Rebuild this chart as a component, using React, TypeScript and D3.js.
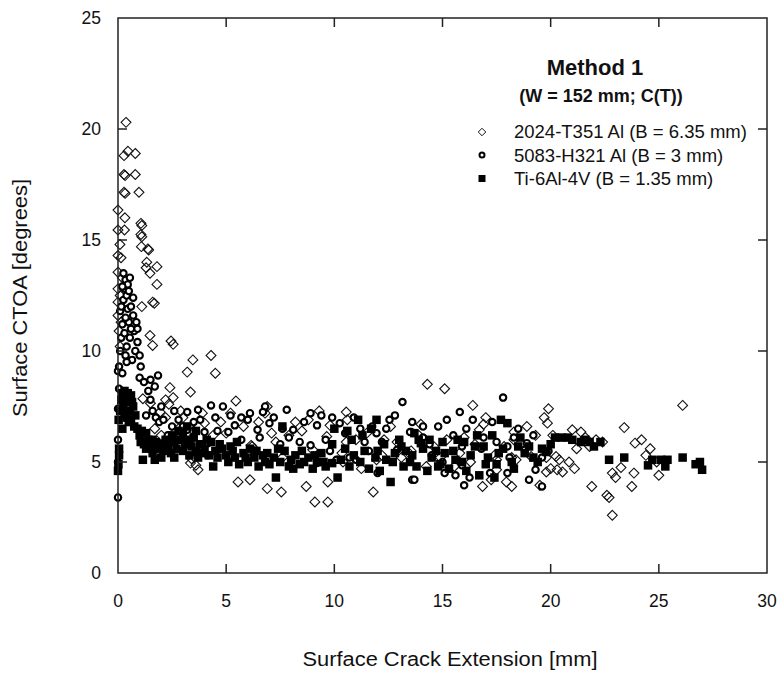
import React from "react";
import * as d3 from "d3";

const xTicks = [0, 5, 10, 15, 20, 25, 30];
const yTicks = [0, 5, 10, 15, 20, 25];

const legendLabels = [
  "2024-T351 Al (B = 6.35 mm)",
  "5083-H321 Al (B = 3 mm)",
  "Ti-6Al-4V (B = 1.35 mm)",
];

// 2024-T351 Al (open diamonds)
const al2024: [number, number][] = [
  [0.37, 20.3], [0.28, 18.8], [0.46, 19.0], [0.8, 18.9],
  [0.28, 17.95], [0.33, 17.9], [0.8, 17.95],
  [0.28, 17.15], [0.33, 17.1], [0.97, 17.15],
  [0.0, 16.35], [0.32, 16.0], [0.0, 15.45], [0.3, 15.45],
  [1.06, 15.75], [1.1, 15.65], [1.06, 15.25], [1.1, 15.15],
  [0.09, 14.8], [1.08, 14.7], [1.38, 14.6], [1.42, 14.55],
  [0.0, 14.3], [0.14, 14.2], [1.33, 14.0], [1.8, 13.8], [1.3, 13.75], [1.48, 13.5], [0.0, 13.55], [0.2, 13.3],
  [1.8, 13.0], [0.0, 12.8], [0.1, 12.5], [0.0, 12.2], [1.6, 12.2], [1.68, 12.15], [1.1, 12.0], [0.0, 11.6], [0.14, 11.3],
  [1.48, 10.7], [1.6, 10.25], [2.45, 10.45], [2.55, 10.3], [0.05, 10.9], [0.1, 10.2],
  [3.46, 9.6], [4.3, 9.8], [3.2, 9.05], [4.5, 9.0],
  [2.4, 8.35], [3.35, 8.15], [1.15, 7.85], [1.5, 7.65], [1.95, 7.25], [2.2, 7.0], [2.55, 7.9], [2.2, 7.8], [2.35, 7.6], [2.9, 7.3], [3.0, 7.0], [5.45, 7.75],
  [4.0, 6.75], [4.75, 6.8], [3.5, 6.4], [3.3, 5.95], [2.8, 6.5], [2.0, 6.2], [1.7, 6.5],
  [3.35, 4.95], [3.4, 5.15], [3.7, 4.65], [3.6, 4.85], [5.55, 4.1], [6.1, 4.2], [6.15, 5.75], [6.2, 5.7],
  [6.9, 7.5], [6.8, 7.2], [7.3, 5.9], [7.6, 5.2], [6.9, 3.8], [7.55, 3.65], [8.5, 6.4], [8.7, 3.9], [9.1, 3.2], [9.7, 3.2], [9.7, 4.1], [9.65, 6.15], [9.0, 5.55], [9.8, 6.65], [8.2, 6.8], [7.9, 6.2], [5.0, 6.3], [5.8, 6.6],
  [10.55, 7.25], [10.6, 6.9], [10.55, 5.9], [10.35, 5.4], [10.4, 5.0], [11.25, 4.7], [11.95, 5.1], [12.2, 5.3], [13.1, 5.2], [13.55, 5.5], [11.8, 3.65], [11.5, 6.3], [12.6, 6.6], [12.9, 5.9],
  [14.3, 8.5], [15.1, 8.3], [16.4, 7.55], [17.0, 7.0], [16.9, 6.7], [16.7, 6.45], [16.0, 6.1], [15.2, 6.0], [14.25, 4.8], [15.55, 4.8], [13.45, 5.4], [14.6, 5.7], [15.8, 5.4], [16.3, 5.0], [14.0, 6.7],
  [17.4, 5.3], [17.5, 4.65], [17.5, 5.1], [17.85, 5.7], [18.2, 5.2], [18.3, 6.0], [18.3, 6.35], [18.4, 5.1], [16.85, 3.9], [17.25, 4.2], [17.95, 4.1], [18.2, 3.9], [19.5, 3.95], [19.1, 5.25], [19.8, 5.2], [19.8, 4.55], [20.0, 4.7], [20.3, 4.65],
  [19.9, 7.4], [19.7, 7.0], [19.85, 6.75], [21.0, 6.45], [21.4, 6.35], [21.2, 5.6], [20.25, 5.25], [20.4, 5.1], [20.85, 5.0], [21.1, 4.7], [20.55, 4.55], [22.1, 6.0], [21.9, 3.9],
  [23.4, 6.55], [24.2, 6.0], [23.9, 5.85], [24.6, 5.6], [24.4, 5.3], [23.25, 4.75], [22.85, 4.5], [23.0, 4.3], [23.85, 4.5], [25.0, 4.4], [23.75, 3.9], [22.6, 3.5], [22.7, 3.4], [22.85, 2.6], [26.1, 7.55], [21.8, 5.7],
  [2.6, 6.3], [3.9, 7.2], [4.4, 6.2], [5.2, 7.2], [6.5, 6.8], [7.1, 6.3], [8.8, 6.9], [9.3, 7.3], [11.0, 6.0], [12.3, 6.0],
  [13.9, 6.2], [14.9, 5.2], [16.5, 5.8], [18.9, 6.6], [19.3, 6.2], [21.6, 6.1], [22.4, 5.9], [24.9, 5.0], [20.1, 6.2],
];

// 5083-H321 Al (open circles)
const al5083: [number, number][] = [
  [0.0, 3.4], [0.0, 5.0], [0.0, 6.0], [0.0, 7.4], [0.05, 8.3], [0.0, 9.1],
  [0.05, 9.3], [0.1, 10.0], [0.15, 10.6], [0.2, 11.2], [0.1, 11.8], [0.25, 12.3], [0.3, 12.8], [0.35, 13.2], [0.4, 12.5], [0.45, 11.9],
  [0.5, 11.3], [0.3, 10.8], [0.4, 10.2], [0.55, 10.6], [0.6, 12.0], [0.5, 12.7], [0.45, 13.0], [0.7, 11.6], [0.75, 10.9], [0.8, 10.0],
  [0.65, 9.6], [0.9, 10.4], [1.0, 9.8], [1.05, 9.3], [0.35, 9.8], [0.2, 9.0], [0.15, 12.0], [0.25, 13.5], [0.6, 11.0], [0.85, 11.3],
  [0.4, 9.5], [0.9, 11.0], [0.2, 12.9], [0.55, 13.3], [0.35, 11.5], [0.7, 12.4],
  [1.0, 8.8], [1.2, 8.6], [1.5, 8.7], [1.7, 8.4], [1.85, 8.9], [1.4, 8.2], [1.5, 7.8], [1.6, 7.3], [1.75, 7.0], [1.9, 6.8], [2.0, 7.5], [1.3, 7.1],
  [2.5, 6.6], [2.8, 6.9], [3.2, 7.25], [3.7, 7.35], [4.3, 7.55], [4.85, 7.5], [4.5, 7.0], [3.2, 6.45], [3.1, 5.9], [4.0, 6.35], [4.15, 5.85], [4.15, 5.3],
  [5.1, 6.35], [5.4, 6.65], [5.7, 7.0], [6.0, 6.9], [5.7, 6.0], [2.3, 6.2], [2.7, 6.0], [3.5, 6.8],
  [6.8, 7.5], [6.7, 7.25], [7.8, 7.35], [8.9, 7.2], [9.9, 7.0], [9.2, 6.65], [10.25, 6.75], [8.1, 6.45], [7.9, 6.1], [8.4, 5.9], [8.9, 5.75],
  [6.45, 6.45], [6.55, 6.1], [7.0, 6.75], [9.2, 4.95], [10.1, 5.1], [7.5, 5.8], [6.3, 5.4], [9.6, 6.0],
  [13.15, 7.7], [12.55, 6.9], [13.6, 6.8], [13.55, 6.35], [11.95, 6.3], [12.2, 5.9], [12.9, 5.55], [10.7, 5.2], [11.0, 5.1], [11.4, 5.9],
  [13.6, 4.2], [11.75, 6.6], [13.5, 6.35], [14.1, 6.1], [14.1, 6.6], [11.2, 6.5],
  [15.8, 7.25], [17.8, 7.9], [16.4, 6.9], [14.8, 6.6], [15.5, 6.2], [15.9, 5.7], [17.5, 5.9], [18.0, 5.7], [18.8, 5.55], [19.6, 5.2], [18.3, 6.1],
  [18.9, 5.85], [15.9, 4.85], [15.6, 4.4], [16.0, 3.95], [16.25, 4.3], [18.0, 4.5], [19.0, 4.2], [19.3, 4.65], [19.6, 3.9], [17.2, 4.5],
  [15.1, 4.5], [15.0, 5.0], [18.1, 5.2], [13.7, 4.2], [12.0, 4.5], [16.8, 5.6], [14.5, 5.3],
  [2.1, 6.9], [2.6, 7.3], [3.0, 6.6], [3.8, 6.9], [4.6, 6.4], [5.2, 7.1], [6.1, 7.2], [7.2, 7.0], [7.6, 6.5], [8.6, 6.8],
  [9.4, 7.1], [10.5, 6.3], [10.9, 7.0], [12.4, 6.5], [12.8, 7.1], [14.4, 5.8], [15.2, 6.9], [16.1, 6.5], [16.9, 6.1], [17.3, 6.8],
  [18.5, 6.5], [19.2, 6.2], [19.9, 5.5], [11.6, 5.5], [9.8, 5.5],
];

// Ti-6Al-4V (filled squares)
const ti64: [number, number][] = [
  [0.0, 4.6], [0.02, 4.9], [0.05, 5.3], [0.05, 5.6], [0.03, 6.9], [0.1, 7.3],
  [0.15, 7.8], [0.2, 8.1], [0.3, 8.2], [0.35, 7.9], [0.45, 8.1], [0.5, 7.7], [0.6, 8.0], [0.55, 7.3], [0.7, 7.5], [0.25, 7.5],
  [0.4, 7.0], [0.6, 6.9], [0.75, 6.6], [0.8, 7.1], [0.9, 6.5], [1.0, 6.2], [1.05, 5.9], [1.1, 6.4], [1.2, 5.8], [1.3, 5.6],
  [1.15, 5.1], [1.4, 6.0], [1.5, 5.7], [1.6, 5.4], [1.7, 5.1], [1.75, 5.9], [1.85, 5.6], [2.0, 5.8], [2.1, 5.5], [2.2, 6.0],
  [2.3, 5.7], [2.45, 5.4], [2.5, 6.2], [2.6, 5.9], [2.7, 5.6], [2.8, 6.4], [2.9, 6.0], [3.0, 5.5], [3.1, 5.8], [3.2, 6.6],
  [3.3, 5.3], [3.4, 5.7], [3.5, 6.1], [3.6, 5.5], [3.7, 5.2], [3.8, 5.8], [3.9, 5.4], [4.0, 5.6], [4.1, 6.0], [4.2, 5.3],
  [4.4, 4.8], [4.5, 5.5], [4.6, 5.2], [4.8, 5.6], [5.0, 5.3], [5.1, 5.0], [5.3, 5.5], [5.4, 5.2], [5.6, 4.9], [5.8, 5.4],
  [6.0, 5.0], [6.1, 5.6], [6.3, 5.2], [6.5, 4.8], [6.7, 5.3], [6.8, 5.0], [7.0, 4.9], [7.2, 5.2], [7.3, 4.3], [7.5, 5.0],
  [7.6, 6.6], [7.7, 5.5], [7.9, 4.8], [8.0, 5.1], [8.2, 5.3], [8.4, 4.9], [8.6, 5.0], [8.8, 5.2], [9.0, 4.7], [9.2, 5.0],
  [9.4, 5.4], [9.6, 4.8], [9.9, 4.95], [9.9, 5.8], [10.0, 6.5], [10.15, 4.3], [10.3, 5.1], [10.5, 5.6], [10.6, 6.4], [10.7, 4.8],
  [10.9, 5.3], [11.1, 6.9], [11.2, 5.0], [11.4, 5.5], [11.6, 4.7], [11.7, 6.5], [11.95, 6.9], [11.9, 5.2], [12.1, 4.6], [12.3, 5.8],
  [12.4, 5.1], [12.6, 4.1], [12.8, 5.4], [13.0, 6.0], [13.2, 4.8], [13.3, 5.5], [13.5, 5.0], [13.7, 6.3], [13.9, 6.0], [13.8, 4.8],
  [14.0, 5.85], [14.1, 5.6], [14.3, 4.6], [14.5, 5.2], [14.7, 5.5], [14.8, 4.8], [14.9, 4.9], [15.1, 5.4], [15.3, 4.7], [15.5, 5.5],
  [15.7, 6.0], [15.9, 5.0], [16.1, 4.6], [16.3, 5.3], [16.5, 5.7], [16.7, 4.4], [16.9, 5.7], [17.1, 5.2], [17.3, 6.2], [17.4, 4.3],
  [17.5, 4.9], [17.7, 6.9], [18.0, 6.75], [17.8, 5.6], [18.2, 5.0], [18.3, 4.7], [18.6, 6.1], [18.8, 5.4], [19.0, 5.7], [19.2, 5.2],
  [19.6, 5.6], [19.8, 5.45], [20.0, 5.8], [20.5, 6.1], [20.8, 6.1], [21.0, 6.0], [21.4, 5.9], [21.6, 6.0], [21.8, 5.9], [22.0, 5.7],
  [22.3, 5.9], [22.7, 5.1], [23.4, 5.2], [24.5, 4.85], [24.7, 5.1], [25.1, 5.1], [25.4, 5.1], [25.3, 4.8], [26.1, 5.2], [26.7, 4.9],
  [26.9, 5.0], [27.0, 4.65],
  [0.3, 7.2], [0.5, 6.8], [0.65, 7.7], [0.2, 6.5], [1.3, 6.3], [1.6, 6.0], [2.0, 5.2], [2.4, 5.9], [2.6, 5.2], [3.0, 6.3],
  [3.3, 6.0], [3.6, 6.4], [4.3, 5.9], [4.7, 5.8], [5.2, 5.7], [5.5, 5.9], [5.9, 5.2], [6.4, 5.5], [6.9, 5.4], [7.4, 5.6],
  [8.1, 4.7], [8.5, 5.5], [9.1, 5.3], [9.5, 5.0], [10.8, 6.0], [11.3, 6.2], [12.0, 5.5], [12.7, 5.0], [13.1, 5.7], [13.6, 5.3],
  [14.4, 6.0], [15.0, 5.9], [15.6, 5.1], [16.0, 5.9], [16.6, 6.2], [17.0, 4.9], [17.6, 5.4], [18.5, 5.7], [19.4, 5.0], [20.2, 6.1],
];

const W = 778;
const H = 673;
const plot = { left: 118, right: 767, top: 18, bottom: 573 };
const FONT = "'Liberation Sans', Arial, Helvetica, sans-serif";
const AXIS = "#222";

export default function App() {
  const x = d3.scaleLinear().domain([0, 30]).range([plot.left, plot.right]);
  const y = d3.scaleLinear().domain([0, 25]).range([plot.bottom, plot.top]);
  const diamond = d3.symbol().type(d3.symbolDiamond2).size(62)();
  const legendDiamond = d3.symbol().type(d3.symbolDiamond2).size(36)();
  const tickLen = 9;

  return (
    <svg
      width={W}
      height={H}
      viewBox={`0 0 ${W} ${H}`}
      style={{ position: "absolute", left: 0, top: 0, background: "#fff", display: "block" }}
    >
      <rect x={0} y={0} width={W} height={H} fill="#fff" />

      {/* diamonds */}
      <g fill="none" stroke="#111" strokeWidth={1.1}>
        {al2024.map((d, i) => (
          <path key={i} d={diamond!} transform={`translate(${x(d[0])},${y(d[1])})`} />
        ))}
      </g>
      {/* circles */}
      <g fill="#fff" stroke="#000" strokeWidth={2.1}>
        {al5083.map((d, i) => (
          <circle key={i} cx={x(d[0])} cy={y(d[1])} r={3.2} />
        ))}
      </g>
      {/* squares */}
      <g fill="#000">
        {ti64.map((d, i) => (
          <rect key={i} x={x(d[0]) - 4.25} y={y(d[1]) - 4.25} width={8.5} height={8.5} />
        ))}
      </g>

      {/* frame */}
      <rect
        x={plot.left}
        y={plot.top}
        width={plot.right - plot.left}
        height={plot.bottom - plot.top}
        fill="none"
        stroke={AXIS}
        strokeWidth={1.5}
      />
      {/* ticks */}
      <g stroke={AXIS} strokeWidth={1.5}>
        {xTicks.slice(1, -1).map((t) => (
          <g key={"xt" + t}>
            <line x1={x(t)} x2={x(t)} y1={plot.bottom} y2={plot.bottom - tickLen} />
            <line x1={x(t)} x2={x(t)} y1={plot.top} y2={plot.top + tickLen} />
          </g>
        ))}
        {yTicks.slice(1, -1).map((t) => (
          <g key={"yt" + t}>
            <line x1={plot.left} x2={plot.left + tickLen} y1={y(t)} y2={y(t)} />
            <line x1={plot.right} x2={plot.right - tickLen} y1={y(t)} y2={y(t)} />
          </g>
        ))}
      </g>
      {/* tick labels */}
      <g fontFamily={FONT} fontSize={17.5} fill="#111">
        {xTicks.map((t) => (
          <text key={"xl" + t} x={x(t)} y={607} textAnchor="middle">
            {t}
          </text>
        ))}
        {yTicks.map((t) => (
          <text key={"yl" + t} x={101} y={y(t) + 6} textAnchor="end">
            {t}
          </text>
        ))}
      </g>
      {/* axis titles */}
      <text
        x={450}
        y={666}
        textAnchor="middle"
        fontFamily={FONT}
        fontSize={20}
        fill="#111"
        textLength={295}
        lengthAdjust="spacingAndGlyphs"
      >
        Surface Crack Extension [mm]
      </text>
      <text
        transform="translate(27,298) rotate(-90)"
        textAnchor="middle"
        fontFamily={FONT}
        fontSize={20}
        fill="#111"
        textLength={238}
        lengthAdjust="spacingAndGlyphs"
      >
        Surface CTOA [degrees]
      </text>

      {/* legend */}
      <text x={595} y={75} textAnchor="middle" fontFamily={FONT} fontWeight="bold" fontSize={22} fill="#111">
        Method 1
      </text>
      <text x={601} y={102} textAnchor="middle" fontFamily={FONT} fontWeight="bold" fontSize={18} fill="#111">
        (W = 152 mm; C(T))
      </text>
      <path d={legendDiamond!} transform={`translate(482,132)`} fill="none" stroke="#111" strokeWidth={1} />
      <circle cx={482} cy={155} r={2.5} fill="#fff" stroke="#000" strokeWidth={2} />
      <rect x={478.5} y={175} width={7} height={7} fill="#000" />
      {legendLabels.map((l, i) => (
        <text key={l} x={514} y={138 + i * 23.5} fontFamily={FONT} fontSize={18.5} fill="#111">
          {l}
        </text>
      ))}
    </svg>
  );
}
